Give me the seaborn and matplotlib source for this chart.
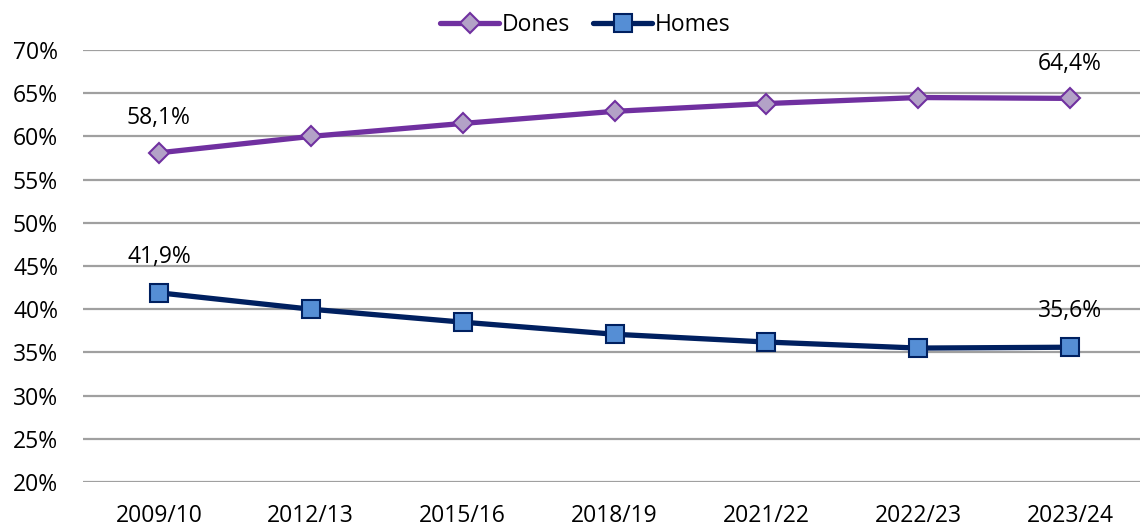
import matplotlib
matplotlib.use("Agg")
import matplotlib.pyplot as plt
import seaborn as sns
import pandas as pd
from matplotlib.ticker import FuncFormatter

periods = ["2009/10", "2012/13", "2015/16", "2018/19", "2021/22", "2022/23", "2023/24"]
dones = [58.1, 60.0, 61.5, 62.9, 63.8, 64.5, 64.4]
homes = [41.9, 40.0, 38.5, 37.1, 36.2, 35.5, 35.6]
yticks = [20, 25, 30, 35, 40, 45, 50, 55, 60, 65, 70]

sns.set_theme(style="white")
plt.rcParams['font.family'] = ['Open Sans', 'DejaVu Sans']
plt.rcParams['text.color'] = 'black'

FS = 16.5

fig = plt.figure(figsize=(11.4, 5.28), dpi=100)
ax = fig.add_axes([83/1140, 1 - 482/528, (1140 - 83)/1140, (482 - 50)/528])

x = list(range(len(periods)))
df_d = pd.DataFrame({"x": x, "v": dones})
df_h = pd.DataFrame({"x": x, "v": homes})

sns.lineplot(data=df_d, x="x", y="v", ax=ax, color="#7030A0", linewidth=3.8,
             marker="D", markersize=10, markerfacecolor="#B3A2C7",
             markeredgecolor="#7030A0", markeredgewidth=1.5, label="Dones", zorder=3)
sns.lineplot(data=df_h, x="x", y="v", ax=ax, color="#002060", linewidth=3.8,
             marker="s", markersize=13, markerfacecolor="#558ED5",
             markeredgecolor="#002060", markeredgewidth=1.5, label="Homes", zorder=3)

ax.set_xlim(-0.5, 6.46)
ax.set_ylim(20, 70)
ax.set_yticks(yticks)
ax.yaxis.set_major_formatter(FuncFormatter(lambda v, p: f"{int(v)}%"))
ax.set_xticks(x)
ax.set_xticklabels(periods)
ax.set_xlabel("")
ax.set_ylabel("")
ax.tick_params(axis="both", length=0, labelsize=FS, colors="black")
ax.tick_params(axis="x", pad=16)
ax.tick_params(axis="y", pad=18)
ax.grid(axis="y", color="#A0A0A0", linewidth=1.6)
ax.grid(axis="x", visible=False)
for s in ax.spines.values():
    s.set_visible(False)
ax.set_axisbelow(True)

def fmt(v):
    return f"{v:.1f}".replace(".", ",") + "%"

for i in (0, len(periods) - 1):
    ax.annotate(fmt(dones[i]), (x[i], dones[i]), xytext=(0, 25), textcoords="offset points",
                ha="center", va="center", fontsize=FS, color="black")
    ax.annotate(fmt(homes[i]), (x[i], homes[i]), xytext=(0, 26), textcoords="offset points",
                ha="center", va="center", fontsize=FS, color="black")

leg = ax.legend(loc="center", bbox_to_anchor=(0.475, 1 + 25/432), ncol=2, frameon=False,
                fontsize=FS, handlelength=2.6, handletextpad=0.1, columnspacing=1.0,
                borderaxespad=0, labelcolor="black")

fig.savefig("out.png", dpi=100)
